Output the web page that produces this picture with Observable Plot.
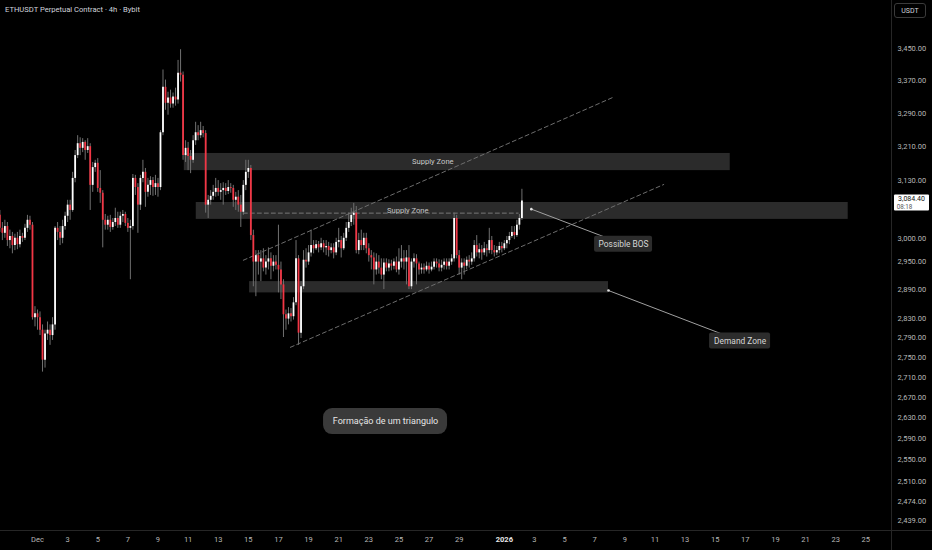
<!DOCTYPE html>
<html><head><meta charset="utf-8">
<script src="https://cdn.jsdelivr.net/npm/d3@7"></script>
<script src="https://cdn.jsdelivr.net/npm/@observablehq/plot@0.6"></script>
<style>
html,body{margin:0;padding:0;background:#000;width:932px;height:550px;overflow:hidden;}
#wrap{position:relative;width:932px;height:550px;}
#wrap svg{position:absolute;left:0;top:0;}
#title{position:absolute;left:5px;top:5px;color:#d1d4dc;font:7.6px Roboto,sans-serif;white-space:nowrap;}
#unit{position:absolute;left:894px;top:3px;width:32px;height:15px;border:1px solid #3a3a3a;border-radius:3px;color:#d1d4dc;font:7px Roboto,sans-serif;text-align:center;line-height:15px;box-sizing:border-box;}
#vline{position:absolute;left:891px;top:530px;width:1px;height:20px;background:#262626;}
#hline{position:absolute;left:891px;top:530px;width:41px;height:1px;background:#262626;}
</style></head><body>
<div id="wrap"><div id="title">ETHUSDT Perpetual Contract · 4h · Bybit</div><div id="unit">USDT</div><div id="vline"></div><div id="hline"></div></div>
<script>
// 4h candles, first candle opens 2025-11-28 12:00 UTC
const firstCandle = "2025-11-28T12:00Z";
const open = [
3052,3023,3012,3027,2996,3005,2985,3001,2987,3005,
3001,3023,3041,3030,2831,2839,2831,2805,2744,2797,
2805,2794,2816,3023,3014,3001,3027,3050,3075,3063,
3136,3189,3217,3206,3220,3201,3210,3120,3161,3171,
3113,3102,3041,3030,3041,3025,3036,3045,3030,3050,
3054,3034,3023,3027,3136,3115,3075,3136,3150,3104,
3120,3131,3115,3124,3115,3243,3353,3314,3327,3312,
3329,3322,3388,3383,3189,3206,3187,3178,3224,3243,
3236,3248,3241,3075,3086,3095,3104,3113,3104,3108,
3113,3106,3115,3113,3086,3093,3075,3059,3120,3150,
3159,3007,2949,2963,2949,2956,2936,2949,2956,2940,
2949,2942,2932,2900,2837,2828,2839,2833,2862,2956,
2799,2896,2953,2949,2969,2985,2978,2987,2980,2989,
2980,2983,2974,2980,2969,2992,2996,2978,3001,3023,
3036,3052,3057,2974,2996,2985,3001,2978,2963,2958,
2932,2949,2936,2921,2947,2936,2945,2940,2949,2932,
2949,2956,2949,2958,2896,2949,2956,2945,2932,2936,
2932,2940,2932,2938,2949,2945,2936,2942,2949,2940,
2949,2956,3045,2963,2936,2947,2940,2953,2949,2956,
2985,2969,2976,2969,2978,2974,2996,2974,2969,2974,
2983,2978,2989,2996,3005,3014,3007,3030,3045];
const high = [
3063,3036,3041,3036,3019,3014,3010,3014,3019,3012,
3032,3052,3050,3036,2854,2847,2843,2816,2805,2822,
2816,2831,3027,3036,3027,3041,3059,3086,3086,3150,
3201,3236,3231,3229,3224,3229,3217,3173,3178,3182,
3154,3108,3054,3050,3052,3045,3068,3059,3059,3063,
3059,3045,3041,3145,3143,3124,3143,3178,3159,3136,
3140,3138,3143,3136,3248,3396,3371,3341,3346,3339,
3351,3420,3447,3391,3224,3220,3201,3236,3268,3260,
3268,3258,3248,3097,3108,3120,3136,3131,3124,3126,
3124,3131,3124,3120,3104,3108,3097,3131,3178,3178,
3166,3019,2974,2974,2974,2978,2963,2980,2969,2963,
2963,3030,2949,2911,2847,2852,2850,2873,2996,2963,
2907,2974,2978,2985,3019,2996,2996,2994,3001,2996,
2996,2992,2989,2989,3001,3023,3005,3012,3036,3057,
3068,3079,3072,3012,3019,3012,3012,2989,2974,2969,
2967,2963,2956,2956,2956,2954,2953,2956,2960,2978,
2985,2974,2974,2985,2956,2967,2965,2949,2945,2945,
2949,2947,2949,2956,2956,2954,2953,2956,2956,2956,
2965,3057,3052,2974,2956,2956,2960,2963,2969,2996,
3007,2989,2985,2992,2987,3023,3005,2985,2983,2992,
2992,2996,3005,3014,3027,3027,3041,3054,3111];
const low = [
3014,2996,3001,2983,2978,2967,2974,2976,2980,2992,
2996,3014,3019,2826,2812,2805,2794,2720,2728,2784,
2774,2784,2805,2996,2985,2989,3019,3036,3041,3059,
3126,3182,3189,3196,3178,3194,3063,3104,3150,3104,
3079,2980,3019,3019,3014,3019,3027,3023,3023,3036,
3027,3014,2911,3019,3097,3012,3063,3126,3070,3093,
3097,3095,3097,3093,3108,3236,3297,3285,3302,3302,
3307,3312,3366,3178,3173,3154,3147,3171,3213,3224,
3229,3231,3057,3045,3075,3086,3093,3095,3086,3075,
3097,3099,3102,3070,3063,3059,3025,3052,3108,3136,
2996,2896,2875,2921,2907,2928,2921,2932,2911,2928,
2932,2883,2869,2790,2805,2816,2822,2826,2856,2774,
2788,2890,2936,2942,2960,2967,2974,2969,2974,2969,
2963,2960,2967,2956,2963,2980,2958,2974,2994,3014,
3027,3030,2967,2965,2974,2974,2967,2949,2932,2900,
2921,2923,2911,2890,2928,2928,2930,2932,2926,2921,
2936,2932,2900,2890,2890,2936,2900,2921,2923,2923,
2928,2923,2928,2932,2936,2928,2928,2932,2932,2932,
2942,2949,2956,2921,2911,2921,2932,2936,2942,2949,
2960,2956,2953,2963,2960,2967,2965,2960,2963,2967,
2969,2974,2978,2987,3001,2998,3003,3019,3041];
const close = [
3023,3012,3027,2996,3005,2985,3001,2987,3005,3001,
3023,3041,3030,2831,2839,2831,2805,2744,2797,2805,
2794,2816,3023,3014,3001,3027,3050,3075,3063,3136,
3189,3217,3206,3220,3201,3210,3120,3161,3171,3113,
3102,3041,3030,3041,3025,3036,3045,3030,3050,3054,
3034,3023,3027,3136,3115,3075,3136,3150,3104,3120,
3131,3115,3124,3115,3243,3353,3314,3327,3312,3329,
3322,3388,3383,3189,3206,3187,3178,3224,3243,3236,
3248,3241,3075,3086,3095,3104,3113,3104,3108,3113,
3106,3115,3113,3086,3093,3075,3059,3120,3150,3159,
3007,2949,2963,2949,2956,2936,2949,2956,2940,2949,
2942,2932,2900,2837,2828,2839,2833,2862,2956,2799,
2896,2953,2949,2969,2985,2978,2987,2980,2989,2980,
2983,2974,2980,2969,2992,2996,2978,3001,3023,3036,
3052,3057,2974,2996,2985,3001,2978,2963,2958,2932,
2949,2936,2921,2947,2936,2945,2940,2949,2932,2949,
2956,2949,2958,2896,2949,2956,2945,2932,2936,2932,
2940,2932,2938,2949,2945,2936,2942,2949,2940,2949,
2956,3045,2963,2936,2947,2940,2953,2949,2956,2985,
2969,2976,2969,2978,2974,2996,2974,2969,2974,2983,
2978,2989,2996,3005,3014,3007,3030,3045,3084.4];

// axis ticks
const yTicks = [3450,3370,3290,3210,3130,3000,2950,2890,2830,2790,2750,2710,2670,2630,2590,2550,2510,2474,2439];
const xTickDates = ["2025-12-01","2025-12-03","2025-12-05","2025-12-07","2025-12-09","2025-12-11","2025-12-13","2025-12-15","2025-12-17","2025-12-19","2025-12-21","2025-12-23","2025-12-25","2025-12-27","2025-12-29","2026-01-01","2026-01-03","2026-01-05","2026-01-07","2026-01-09","2026-01-11","2026-01-13","2026-01-15","2026-01-17","2026-01-19","2026-01-21","2026-01-23","2026-01-25"];
const xTickLabels = ["Dec","3","5","7","9","11","13","15","17","19","21","23","25","27","29","2026","3","5","7","9","11","13","15","17","19","21","23","25"];

// drawn zones
const zoneStart = ["2025-12-10T18:00Z","2025-12-11T13:00Z","2025-12-15T02:00Z"];
const zoneEnd   = ["2026-01-16T00:00Z","2026-01-23T20:00Z","2026-01-07T22:00Z"];
const zoneLow   = [3154,3043,2883];
const zoneHigh  = [3194,3081,2907];
const zoneLabel = ["Supply Zone","Supply Zone",""];
const zoneLabelTime = ["2025-12-27T06:00Z","2025-12-25T14:00Z",null];

// ascending channel
const channelUpper = [["2025-12-14T16:00Z",2953],["2026-01-08T06:00Z",3329]];
const channelLower = [["2025-12-17T19:00Z",2770],["2026-01-11T14:00Z",3122]];
// dashed level
const levelLine = [["2025-12-14T16:00Z",3057],["2026-01-01T22:00Z",3057]];

// callouts
const calloutText = ["Possible BOS","Demand Zone"];
const calloutFromTime = ["2026-01-02T19:00Z","2026-01-07T22:00Z"];
const calloutFromPrice = [3066,2888];
const calloutBoxTime = ["2026-01-08T22:00Z","2026-01-16T15:40Z"];
const calloutBoxPrice = [2988,2783];
const calloutBoxWidth = [58,61];

const noteText = ["Formação de um triangulo"];
const noteTime = ["2025-12-24T02:40Z"];
const notePrice = [2623];

const lastPrice = [3084.4];
const countdown = ["08:18"];

// ---------- build ----------
const t0 = new Date(firstCandle);
const candles = close.map((c, i) => ({
  t: new Date(+t0 + i * 4 * 3600e3), o: open[i], h: high[i], l: low[i], c,
  col: c >= open[i] ? "#ffffff" : "#f23645"
}));
const zones = zoneLow.map((_, i) => ({t1: new Date(zoneStart[i]), t2: new Date(zoneEnd[i]), lo: zoneLow[i], hi: zoneHigh[i], label: zoneLabel[i], lt: zoneLabelTime[i] && new Date(zoneLabelTime[i])}));
const pts = a => a.map(([t, p]) => ({t: new Date(t), p}));
const callouts = calloutText.map((s, i) => ({s, ft: new Date(calloutFromTime[i]), fp: calloutFromPrice[i], bt: new Date(calloutBoxTime[i]), bp: calloutBoxPrice[i], w: calloutBoxWidth[i]}));
const notes = noteText.map((s, i) => ({s, t: new Date(noteTime[i]), p: notePrice[i]}));
const xTicks = xTickDates.map((d, i) => ({t: new Date(d + "T00:00Z"), label: xTickLabels[i]}));

const xDomain = [new Date("2025-11-28T13:02Z"), new Date("2026-01-26T17:00Z")];
const yDomain = [2421.2, 3573.9];
const xEnd = xDomain[1];
const last = [{t: xEnd, p: lastPrice[0], s: d3.format(",.2f")(lastPrice[0]), cd: countdown[0]}];
const font = "Roboto, sans-serif";

const boxMarks = callouts.map(c => Plot.rect([c], {x1: "bt", x2: "bt", y1: "bp", y2: "bp",
  insetLeft: -c.w / 2, insetRight: -c.w / 2, insetTop: -8, insetBottom: -8, rx: 2, fill: "#2c2c2c"}));

const chart = Plot.plot({
  width: 932, height: 550,
  marginLeft: 0, marginRight: 41, marginTop: 0, marginBottom: 20,
  style: {background: "#000", color: "#b2b5be", fontFamily: font, overflow: "visible"},
  x: {type: "utc", domain: xDomain, axis: null},
  y: {type: "log", domain: yDomain},
  color: {type: "identity"},
  marks: [
    Plot.frame({anchor: "right", stroke: "#262626"}),
    Plot.frame({anchor: "bottom", stroke: "#262626"}),
    // zones
    Plot.rect(zones, {x1: "t1", x2: "t2", y1: "lo", y2: "hi", fill: "#2b2b2b"}),
    Plot.text(zones.filter(z => z.label), {x: "lt", y: d => Math.sqrt(d.lo * d.hi), text: "label", fill: "#c9c9c9", fontSize: 7.6}),
    // channel + level
    Plot.line(pts(channelUpper), {x: "t", y: "p", stroke: "#6e6e6e", strokeWidth: 1, strokeDasharray: "4,3"}),
    Plot.line(pts(channelLower), {x: "t", y: "p", stroke: "#6e6e6e", strokeWidth: 1, strokeDasharray: "4,3"}),
    Plot.line(pts(levelLine), {x: "t", y: "p", stroke: "#777", strokeWidth: 1, strokeDasharray: "4,3"}),
    // candles
    Plot.ruleX(candles, {x: "t", y1: "l", y2: "h", stroke: "#707070", strokeWidth: 1}),
    Plot.ruleX(candles, {x: "t", y1: "o", y2: "c", stroke: "col", strokeWidth: 1.8}),
    // callouts
    Plot.link(callouts, {x1: "ft", y1: "fp", x2: "bt", y2: "bp", stroke: "#a0a0a0", strokeWidth: 1}),
    Plot.dot(callouts, {x: "ft", y: "fp", r: 1.3, fill: "#e0e0e0"}),
    ...boxMarks,
    Plot.text(callouts, {x: "bt", y: "bp", text: "s", fill: "#d6d6d6", fontSize: 8.4}),
    // note
    Plot.rect(notes, {x1: "t", x2: "t", y1: "p", y2: "p", insetLeft: -62, insetRight: -62, insetTop: -13, insetBottom: -13, rx: 9, fill: "#3a3a3a"}),
    Plot.text(notes, {x: "t", y: "p", text: "s", fill: "#e6e6e6", fontSize: 9}),
    // axes
    Plot.axisY(yTicks, {anchor: "right", tickSize: 0, tickPadding: 6, tickFormat: d3.format(",.2f"), fontSize: 7.5, fill: "#b8b8b8", label: null}),
    Plot.text(xTicks.filter(d => d.label !== "2026"), {x: "t", text: "label", frameAnchor: "bottom", dy: 11, fill: "#b8b8b8", fontSize: 7.5}),
    Plot.text(xTicks.filter(d => d.label === "2026"), {x: "t", text: "label", frameAnchor: "bottom", dy: 11, fill: "#e8e8e8", fontSize: 7.5, fontWeight: "bold"}),
    // last price label
    Plot.rect(last, {x1: "t", x2: "t", y1: "p", y2: "p", insetLeft: 3, insetRight: -38, insetTop: -6, insetBottom: -10, fill: "#ffffff", rx: 1}),
    Plot.text(last, {x: "t", y: "p", text: "s", dx: 20, dy: -1.8, fill: "#111", fontSize: 7}),
    Plot.text(last, {x: "t", y: "p", text: "cd", dx: 13, dy: 6, fill: "#555", fontSize: 6.3}),
  ]
});
document.getElementById("wrap").prepend(chart);
</script>
</body></html>
